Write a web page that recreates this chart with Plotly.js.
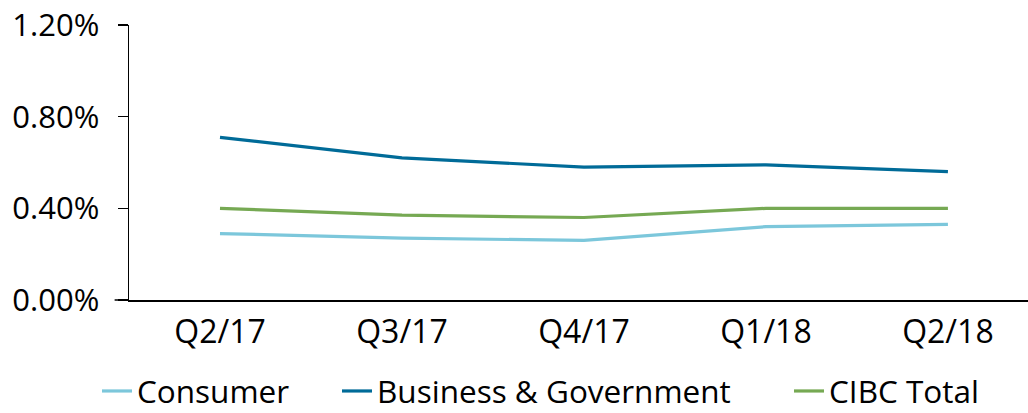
<!DOCTYPE html>
<html>
<head>
<meta charset="utf-8">
<script src="https://cdn.plot.ly/plotly-3.0.1.min.js"></script>
<style>
html,body{margin:0;padding:0;background:#fff;overflow:hidden;}
#chart{width:1028px;height:413px;}
</style>
</head>
<body>
<div id="chart"></div>
<script>
const quarters = ["Q2/17", "Q3/17", "Q4/17", "Q1/18", "Q2/18"];
const consumer = [0.29, 0.27, 0.26, 0.32, 0.33];
const businessGov = [0.71, 0.62, 0.58, 0.59, 0.56];
const cibcTotal = [0.40, 0.37, 0.36, 0.40, 0.40];
const yTicks = [0, 0.4, 0.8, 1.2];
const yTickLabels = ["0.00%", "0.40%", "0.80%", "1.20%"];

const FONT = '"Open Sans", "Noto Sans", sans-serif';
const W = 1028, H = 413;
const PLOT_H = 275;

const traces = [
  {x: quarters, y: consumer, name: "Consumer", type: "scatter", mode: "lines",
   line: {color: "#7cc7db", width: 3.2}, legend: "legend"},
  {x: quarters, y: businessGov, name: "Business & Government", type: "scatter", mode: "lines",
   line: {color: "#006b98", width: 3.2}, legend: "legend2"},
  {x: quarters, y: cibcTotal, name: "CIBC Total", type: "scatter", mode: "lines",
   line: {color: "#76a953", width: 3.2}, legend: "legend3"}
];

function leg(px) {
  return {
    orientation: "h", xref: "container", yref: "paper",
    x: px / W, xanchor: "left", y: -91 / PLOT_H, yanchor: "middle",
    font: {family: FONT, size: 31.5, color: "#000"},
    bgcolor: "rgba(0,0,0,0)", borderwidth: 0
  };
}

const layout = {
  width: W, height: H,
  margin: {l: 129, r: 0, t: 25, b: 113, autoexpand: false},
  paper_bgcolor: "#fff", plot_bgcolor: "#fff",
  font: {family: FONT, size: 31, color: "#000"},
  showlegend: true,
  legend: leg(97),
  legend2: leg(337),
  legend3: leg(789),
  xaxis: {
    type: "category", range: [-0.5, 4.44],
    showline: true, linecolor: "#000", linewidth: 1.5,
    ticks: "", showgrid: false, zeroline: false,
    tickfont: {family: FONT, size: 32, color: "#000"},
    ticklabelstandoff: 3
  },
  yaxis: {
    range: [0, 1.2], tickmode: "array", tickvals: yTicks, ticktext: yTickLabels,
    showline: true, linecolor: "#000", linewidth: 1.5,
    ticks: "outside", ticklen: 10, tickcolor: "#000", tickwidth: 1.5,
    showgrid: false, zeroline: false,
    tickfont: {family: FONT, size: 31, color: "#000"},
    ticklabelstandoff: 12
  },
  shapes: [
    {type: "line", xref: "paper", yref: "paper", x0: -0.016, x1: 0, y0: 0, y1: 0,
     line: {color: "#000", width: 1.5}}
  ]
};

Plotly.newPlot("chart", traces, layout, {displayModeBar: false, staticPlot: true});
</script>
</body>
</html>
